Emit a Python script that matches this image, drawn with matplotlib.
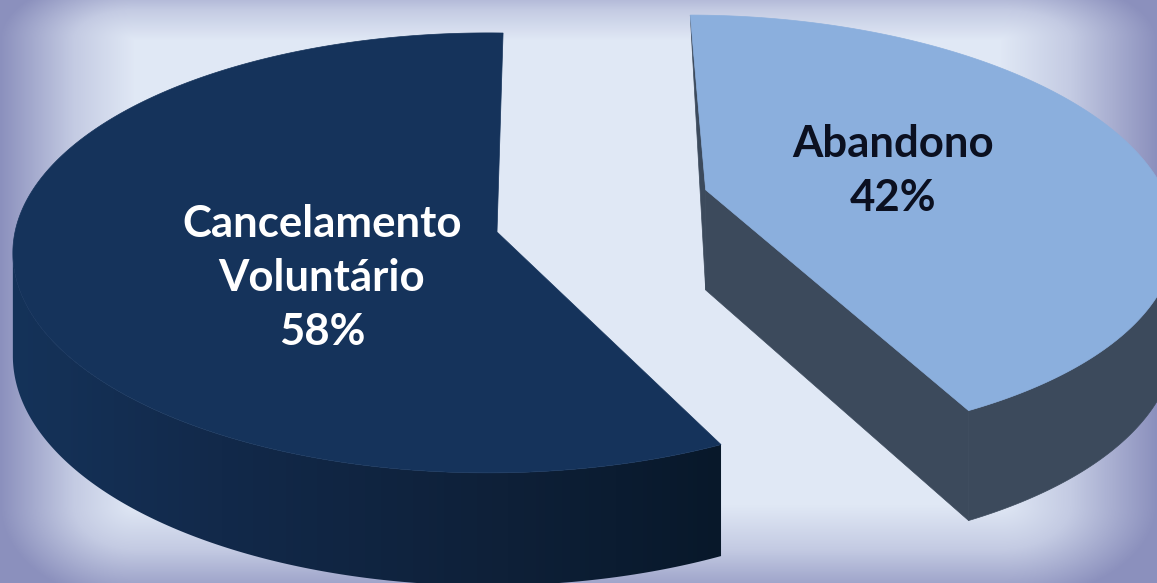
import numpy as np
import matplotlib
matplotlib.use("Agg")
import matplotlib.pyplot as plt
from matplotlib.colors import LinearSegmentedColormap
from matplotlib.patches import Polygon

categories = ["Cancelamento\nVoluntário", "Abandono"]
values = [58, 42]
explode = [0, 0.48]
label_pos = [(322, 278), (893, 171)]
label_colors = ["white", "#0b1020"]

W, H = 1157, 583
# perspective of the tilted disc, on screen
ox, oy = 488, 232
sx, sy = 473, 218
k = 0.095
depth = 102

fig = plt.figure(figsize=(W / 100, H / 100), dpi=100)
ax = fig.add_axes([0, 0, 1, 1])
ax.set_xlim(0, W)
ax.set_ylim(H, 0)
ax.axis("off")

# background, gradient towards the edges
xx, yy = np.meshgrid(np.arange(W) + 0.5, np.arange(H) + 0.5)
fx = np.maximum(1 - xx / 135, (xx - 1000) / 157).clip(0, 1)
fy = np.maximum(0.6 * (1 - yy / 40), 0.8 * (yy - 505) / 78).clip(0, 1)
fade = np.hypot(fx, fy).clip(0, 1)
bg_cmap = LinearSegmentedColormap.from_list(
    "bg", [(0, "#e0e8f5"), (0.45, "#c4cbe3"), (1, "#8b90bd")])
ax.imshow(fade, cmap=bg_cmap, vmin=0, vmax=1, extent=(0, W, H, 0),
          aspect="auto", interpolation="bilinear", zorder=0)


def project(x, y, drop=0.0):
    den = 1 + k * y
    return ox + sx * x / den, oy - sy * y / den + drop / den


# the pie itself only supplies angles and offsets
pie_ax = fig.add_axes([0, 0, 1, 1])
wedges, _ = pie_ax.pie(values, explode=explode, startangle=88, counterclock=True)
pie_ax.set_visible(False)


def arc(w, r=1.0, lift=0.0, turn=0.0):
    t = np.radians(np.linspace(w.theta1 + turn, w.theta2 + turn, 300))
    cx, cy = w.center
    return cx + r * np.cos(t), cy + lift + r * np.sin(t)


# dark slice: apex sits a little right of the disc centre
dark = wedges[0]
dx, dy = arc(dark)
px, py = project(dx, dy)
qx, qy = project(dx, dy, depth)
# outer wall only from the leftmost point of the rim onwards
i0 = np.argmin(px)
side = Polygon(np.column_stack([np.r_[px[i0:], qx[i0:][::-1]], np.r_[py[i0:], qy[i0:][::-1]]]),
               closed=True, fc="none", ec="none", transform=ax.transData)
ax.add_patch(side)
side_cmap = LinearSegmentedColormap.from_list(
    "side", [(0, "#15335a"), (0.3, "#12294a"), (0.7, "#0e2038"), (1, "#08182a")])
im = ax.imshow(np.linspace(0, 1, 256)[None, :], cmap=side_cmap, extent=(5, 725, H, 0),
               aspect="auto", zorder=1)
im.set_clip_path(side)
ax.add_patch(Polygon(np.column_stack([np.r_[497, px], np.r_[232, py]]),
                     closed=True, fc="#15335b", ec="#15335b", lw=0.5, zorder=2))

# light slice, turned slightly and with the apex above the arc centre
light = wedges[1]
lcx, lcy = light.center
bx, by = arc(light, r=0.99, lift=0.006, turn=1.8)
lx, ly = project(bx, by)
mx, my = project(bx, by, depth)
ap_x, ap_y = project(lcx, lcy + 0.094)
ap2_x, ap2_y = project(lcx, lcy + 0.094, depth)
side_col = "#3c4a5c"
# near cut face, from the apex to the front of the arc
ax.add_patch(Polygon([(ap_x, ap_y), (lx[0], ly[0]), (mx[0], my[0]), (ap2_x, ap2_y)],
                     closed=True, fc=side_col, ec=side_col, lw=0.5, zorder=3))
# far cut face, only a sliver shows on the left
ax.add_patch(Polygon([(ap_x, ap_y), (lx[-1], ly[-1]), (ap2_x, ap2_y)],
                     closed=True, fc=side_col, ec=side_col, lw=0.5, zorder=3))
# outer wall, the rim leaves the frame on the right
n = np.argmax(lx)
ax.add_patch(Polygon(np.column_stack([np.r_[lx[:n], mx[:n][::-1]], np.r_[ly[:n], my[:n][::-1]]]),
                     closed=True, fc=side_col, ec=side_col, lw=0.5, zorder=3))
ax.add_patch(Polygon(np.column_stack([np.r_[ap_x, lx], np.r_[ap_y, ly]]),
                     closed=True, fc="#8bafdd", ec="#8bafdd", lw=0.5, zorder=4))

for cat, val, pos, col in zip(categories, values, label_pos, label_colors):
    ax.text(pos[0], pos[1], f"{cat}\n{val}%", color=col, ha="center", va="center",
            family="Lato", fontweight="bold", fontsize=31.5, linespacing=1.42, zorder=5)

ax.set_xlim(0, W)
ax.set_ylim(H, 0)
fig.savefig("out.png", dpi=100)
